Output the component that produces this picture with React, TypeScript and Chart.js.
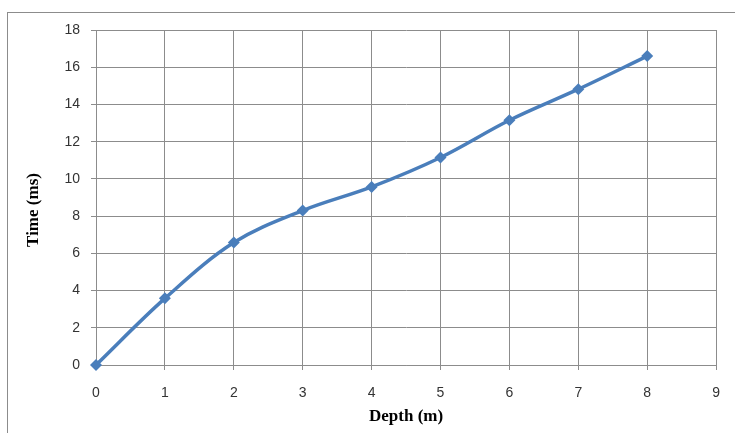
import React, { useEffect, useRef } from "react";
import { Chart, registerables } from "chart.js";

Chart.register(...registerables);

const depthCategories = [0, 1, 2, 3, 4, 5, 6, 7, 8];
const timeValues = [0, 3.58, 6.58, 8.3, 9.57, 11.15, 13.15, 14.82, 16.6];
const xTickValues = [0, 1, 2, 3, 4, 5, 6, 7, 8, 9];
const yTickValues = [0, 2, 4, 6, 8, 10, 12, 14, 16, 18];
const xTitle = "Depth (m)";
const yTitle = "Time (ms)";

const yTitlePlugin = {
  id: "yTitlePlugin",
  afterDraw(chart: any) {
    const ctx = chart.ctx;
    ctx.save();
    ctx.font = "bold 17px 'Liberation Serif', 'Times New Roman', serif";
    ctx.fillStyle = "#000";
    ctx.textAlign = "center";
    ctx.textBaseline = "middle";
    ctx.translate(34, 210);
    ctx.rotate(-Math.PI / 2);
    ctx.fillText(yTitle, 0, 0);
    ctx.restore();
  },
};

export default function App() {
  const ref = useRef<HTMLCanvasElement>(null);
  useEffect(() => {
    if (!ref.current) return;
    const points = depthCategories.map((d, i) => ({ x: d, y: timeValues[i] }));
    const chart = new Chart(ref.current, {
      type: "line",
      data: {
        datasets: [
          {
            label: yTitle,
            data: points,
            borderColor: "#4a7ebb",
            backgroundColor: "#4a7ebb",
            borderWidth: 3.5,
            tension: 0.35,
            cubicInterpolationMode: "default",
            pointStyle: "rectRot",
            pointRadius: 6,
            pointBorderWidth: 0,
            pointBackgroundColor: "#4a7ebb",
            fill: false,
            clip: false,
          },
        ],
      },
      options: {
        animation: false,
        responsive: false,
        maintainAspectRatio: false,
        layout: { padding: { left: 0, top: 30, right: 16, bottom: 0 } },
        plugins: { legend: { display: false }, tooltip: { enabled: false } },
        scales: {
          x: {
            type: "linear",
            min: 0,
            max: 9,
            afterBuildTicks: (s: any) => {
              s.ticks = xTickValues.map((v) => ({ value: v }));
            },
            afterFit: (s: any) => {
              s.height = 68;
            },
            grid: { color: "#8c8c8c", lineWidth: 1, tickLength: 5, drawTicks: true },
            border: { color: "#8c8c8c" },
            ticks: {
              color: "#333",
              padding: 15,
              font: { family: "'Liberation Sans', Arial, sans-serif", size: 14 },
              maxRotation: 0,
            },
            title: {
              display: true,
              text: xTitle,
              color: "#000",
              font: { family: "'Liberation Serif', 'Times New Roman', serif", size: 17, weight: "bold" },
              padding: { top: 0, bottom: 6 },
            },
          },
          y: {
            type: "linear",
            min: 0,
            max: 18,
            afterBuildTicks: (s: any) => {
              s.ticks = yTickValues.map((v) => ({ value: v }));
            },
            afterFit: (s: any) => {
              s.width = 96;
            },
            grid: { color: "#8c8c8c", lineWidth: 1, tickLength: 5, drawTicks: true },
            border: { color: "#8c8c8c" },
            ticks: {
              color: "#333",
              padding: 11,
              font: { family: "'Liberation Sans', Arial, sans-serif", size: 14 },
            },
          },
        },
      },
      plugins: [yTitlePlugin],
    });
    return () => chart.destroy();
  }, []);

  return (
    <div style={{ position: "fixed", left: 0, top: 0, width: 735, height: 433, background: "#fff" }}>
      <div
        style={{
          position: "absolute",
          left: 7,
          top: 12,
          width: 740,
          height: 440,
          borderLeft: "1px solid #8c8c8c",
          borderTop: "1px solid #8c8c8c",
        }}
      />
      <canvas ref={ref} width={735} height={433} style={{ position: "absolute", left: 0, top: 0, display: "block" }} />
    </div>
  );
}
